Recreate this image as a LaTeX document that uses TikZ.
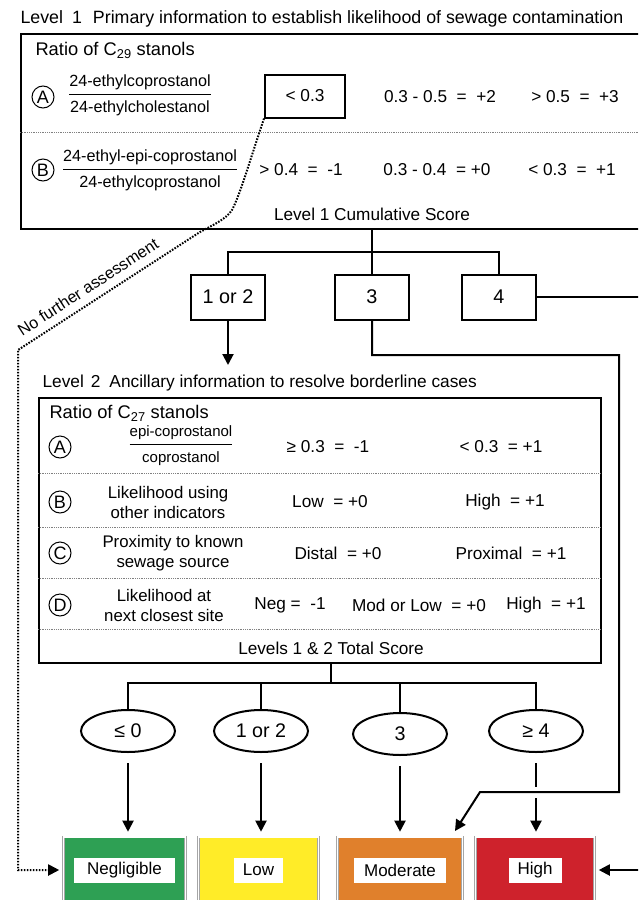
\documentclass[tikz,border=0pt]{standalone}
\usepackage{fontspec}
\setmainfont{Liberation Sans}
\usepackage{tikz}
\usetikzlibrary{arrows.meta,shapes.geometric,positioning}

\definecolor{neglc}{RGB}{46,160,84}
\definecolor{lowc}{RGB}{255,236,40}
\definecolor{modc}{RGB}{224,128,44}
\definecolor{highc}{RGB}{206,34,44}

\newcommand{\stanolratio}[2]{\setlength{\arrayrulewidth}{1pt}%
  \begin{tabular}{@{}c@{}}#1\\[3pt]\hline\rule{0pt}{17pt}#2\end{tabular}}

\begin{document}
\begin{tikzpicture}[
  x=1pt, y=-1pt,
  >={Triangle[length=11pt,width=11pt]},
  font=\fontsize{17.2}{19}\selectfont,
  frame/.style={draw, line width=1.6pt},
  rowsep/.style={draw=gray, line width=0.6pt, dash pattern=on 0.8pt off 1pt},
  circ/.style={circle, draw, line width=1pt, inner sep=0pt, minimum size=22pt,
               font=\fontsize{18}{18}\selectfont},
  ratio/.style={font=\fontsize{16.2}{17}\selectfont, inner sep=0pt},
  twoline/.style={align=center, font=\fontsize{16.8}{20}\selectfont},
  score/.style={draw, line width=2pt, minimum width=74pt, minimum height=45pt,
                font=\fontsize{19.8}{20}\selectfont},
  link/.style={line width=2pt},
  oval/.style={ellipse, draw, line width=2pt, minimum width=94pt,
               minimum height=42pt, font=\fontsize{19.7}{20}\selectfont},
  risk/.style={draw=gray!70, line width=0.6pt, double=white,
               double distance=1.6pt, fill=#1, minimum height=66pt},
  risklbl/.style={fill=white, minimum height=25pt, inner xsep=9pt,
                  font=\fontsize{17}{17}\selectfont},
  nofurther/.style={line width=2pt, dash pattern=on 1.6pt off 1.4pt}
]
\useasboundingbox (0,0) rectangle (638,900);
\clip (0,0) rectangle (638,900);

% ----- Level 1 -----
\node[anchor=west, font=\fontsize{17.8}{20}\selectfont] (lvl1title) at (17,19)
  {Level\hspace{9pt}1\hspace{11pt}Primary information to establish likelihood of sewage contamination};
\node[frame, anchor=north west, minimum width=640pt, minimum height=195pt] (lvl1) at (20,33) {};
\node[anchor=west, font=\fontsize{18.3}{20}\selectfont] (c29) at (32,50) {Ratio of C\textsubscript{29} stanols};

\node[circ] (l1a) at (43,97) {A};
\node[ratio] (l1afrac) at (140,96) {\stanolratio{24-ethylcoprostanol}{24-ethylcholestanol}};
\node[score, minimum width=80pt, minimum height=43pt, font=\fontsize{17.3}{18}\selectfont] (lt03) at (305,96) {< 0.3};
\node (l1a2) at (440,97) {0.3 - 0.5 \ = \ +2};
\node (l1a3) at (575,97) {> 0.5 \ = \ +3};

\draw[rowsep] (20,132) -- (645,132);

\node[circ] (l1b) at (43,170) {B};
\node[ratio] (l1bfrac) at (150,171) {\stanolratio{24-ethyl-epi-coprostanol}{24-ethylcoprostanol}};
\node (l1b1) at (301,170) {> 0.4 \ = \ -1};
\node (l1b2) at (437,170) {0.3 - 0.4 \ = +0};
\node (l1b3) at (572,170) {< 0.3 \ = \ +1};

\node (cum1) at (372,214) {Level 1 Cumulative Score};

% ----- Level 1 scores -----
\node[score] (b12) at (228,297) {1 or 2};
\node[score] (b3) at (372,297) {3};
\node[score] (b4) at (499,297) {4};

\coordinate (fork1) at (372,252);
\draw[link] (cum1 |- lvl1.south) -- (fork1);
\draw[link] (b12.north) |- (b4.north |- fork1) -- (b4.north);
\draw[link] (b3.north) -- (b3.north |- fork1);

\coordinate (l2in) at (228,365);
\draw[link, ->] (b12.south) -- (l2in);

% ----- Level 2 -----
\node[anchor=west, font=\fontsize{17.3}{20}\selectfont] (lvl2title) at (39,383)
  {Level\hspace{7pt}2\hspace{9pt}Ancillary information to resolve borderline cases};
\node[frame, anchor=north west, minimum width=562pt, minimum height=265pt] (lvl2) at (38,397) {};
\node[anchor=west, font=\fontsize{18.3}{20}\selectfont] (c27) at (46,413) {Ratio of C\textsubscript{27} stanols};

\node[circ] (l2a) at (60,447) {A};
\node[ratio, font=\fontsize{15}{16}\selectfont] (l2afrac) at (181,446) {\stanolratio{epi-coprostanol}{coprostanol}};
\node (l2a1) at (328,447) {≥ 0.3 \ = \ -1};
\node (l2a2) at (501,447) {< 0.3 \ = +1};

\draw[rowsep] (38,473) -- (600,473);

\node[circ] (l2b) at (60,502) {B};
\node[twoline] (l2btxt) at (168,502) {Likelihood using\\other indicators};
\node (l2b1) at (330,502) {Low \ = +0};
\node (l2b2) at (505,502) {High \ = +1};

\draw[rowsep] (38,527) -- (600,527);

\node[circ] (l2c) at (60,553) {C};
\node[twoline] (l2ctxt) at (173,553) {Proximity to known\\sewage source};
\node (l2c1) at (338,553) {Distal \ = +0};
\node (l2c2) at (511,553) {Proximal \ = +1};

\draw[rowsep] (38,578) -- (600,578);

\node[circ] (l2d) at (60,605) {D};
\node[twoline] (l2dtxt) at (164,605) {Likelihood at\\next closest site};
\node (l2d1) at (290,605) {Neg = \ -1};
\node (l2d2) at (419,605) {Mod or Low \ = +0};
\node (l2d3) at (546,605) {High \ = +1};

\draw[rowsep] (38,629) -- (600,629);

\node (tot2) at (331,648) {Levels 1 \& 2 Total Score};

% ----- Level 2 scores -----
\node[oval] (e1) at (128,731) {≤ 0};
\node[oval] (e2) at (261,731) {1 or 2};
\node[oval] (e3) at (400,734) {3};
\node[oval] (e4) at (536,731) {≥ 4};

\coordinate (fork2) at (331,683);
\draw[link] (tot2 |- lvl2.south) -- (fork2);
\draw[link] (e1.north) |- (e4.north |- fork2) -- (e4.north);
\draw[link] (e2.north) -- (e2.north |- fork2);
\draw[link] (e3.north) -- (e3.north |- fork2);

% ----- likelihood categories -----
\node[risk=neglc, minimum width=122pt] (negl) at (124.5,870) {};
\node[risk=lowc, minimum width=120pt] (low) at (258.5,870) {};
\node[risk=modc, minimum width=125pt] (mod) at (400,870) {};
\node[risk=highc, minimum width=119pt] (high) at (535,870) {};
\node[risklbl, minimum width=101pt] (neglname) at (negl) {Negligible};
\node[risklbl, minimum width=49pt] (lowname) at (low) {Low};
\node[risklbl, minimum width=92pt] (modname) at (mod) {Moderate};
\node[risklbl, minimum width=53pt] (highname) at (high) {High};

\foreach \e/\c in {e1/negl, e2/low, e3/mod, e4/high}
  \draw[link, ->, shorten <=10pt, shorten >=5pt] (\e.south) -- (\e.south |- \c.north);

% ----- direct routes from level 1 -----
\coordinate (offR) at (645,0);
\coordinate (turnA) at (619,355);
\coordinate (turnB) at (619,792);
\coordinate (turnC) at (480,792);
\coordinate (modin) at (455,831);
\draw[white, line width=11pt] ([xshift=-6pt]e4.south |- turnB) -- ([xshift=6pt]e4.south |- turnB);
\draw[link, ->] (b3.south) |- (turnA) -- (turnB) -- (turnC) -- (modin);
\draw[link] (b4.east) -- (b4.east -| offR);
\draw[link, ->, shorten >=4pt] (high.east -| offR) -- (high.east);

% ----- no further assessment -----
\draw[nofurther, ->, shorten >=4pt] (lt03.south west)
  .. controls (250,160) and (240,195) .. (232,210)
  .. controls (226,219) and (215,224) .. (200,232)
  -- (18,350) |- (negl.west);
\node[rotate=33, font=\fontsize{16.3}{17}\selectfont] (nofurthertxt) at (88,287) {No further assessment};
\end{tikzpicture}
\end{document}
